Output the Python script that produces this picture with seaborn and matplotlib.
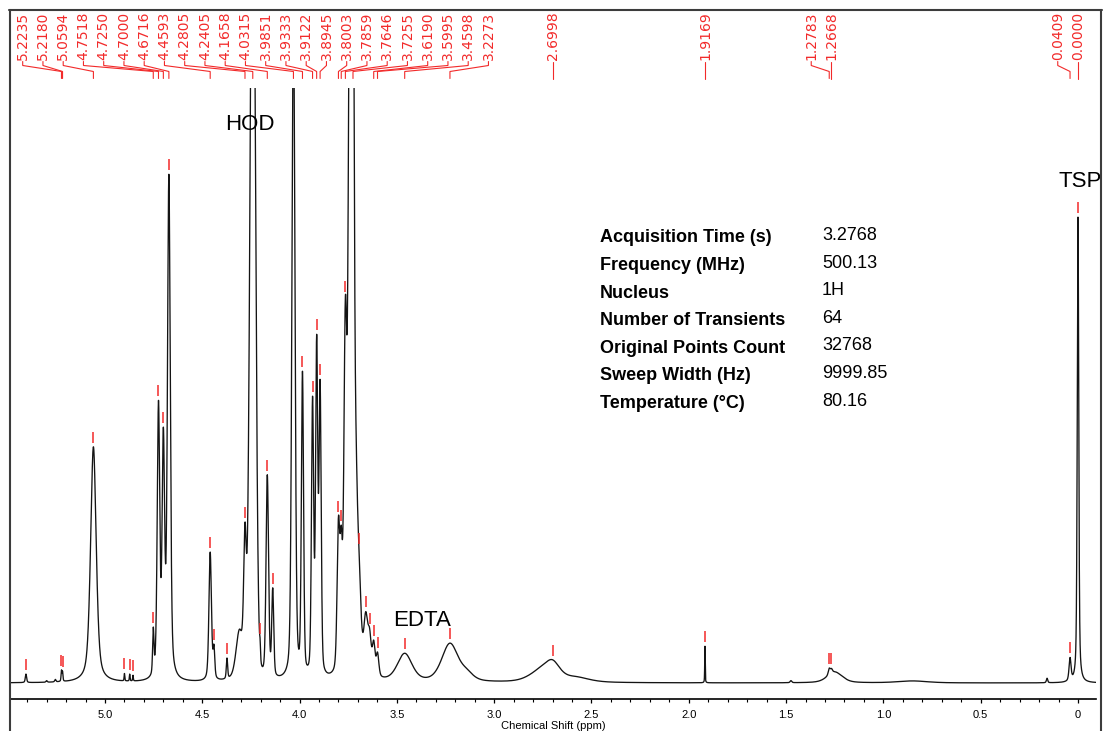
import numpy as np
import matplotlib
matplotlib.use("Agg")
import matplotlib.pyplot as plt
from matplotlib.lines import Line2D
from matplotlib.ticker import MultipleLocator, FuncFormatter
import seaborn as sns

# ---------------------------------------------------------------------------
# 1H NMR spectrum (500 MHz, D2O, 80 degC) described as a list of picked lines:
# chemical shift (ppm), apex intensity (% of the plotted height), half width
# at half maximum (ppm), Lorentzian share of the line shape, peak-pick mark.
# ---------------------------------------------------------------------------
peak_ppm = [5.406, 5.300, 5.255, 5.2235, 5.2180, 5.0594, 4.900, 4.873, 4.856,
            4.7518, 4.7250, 4.7000, 4.6716, 4.4593, 4.440, 4.373, 4.310,
            4.2805, 4.2405, 4.203, 4.1658, 4.138, 4.0315, 3.9851, 3.9333,
            3.9122, 3.8945, 3.8003, 3.7859, 3.7646, 3.7420, 3.7255, 3.712,
            3.695, 3.660, 3.640, 3.6190, 3.5995, 3.4598, 3.2273, 3.140,
            2.760, 2.6998, 2.580, 1.9169, 1.475, 1.2783, 1.2668, 1.250,
            1.205, 0.850, 0.159, 0.0409, 0.0000]
peak_height = [1.5, 0.4, 0.6, 2.2, 2.0, 39.7, 1.6, 1.5, 1.3,
               9.4, 47.5, 43.0, 85.5, 22.0, 6.5, 4.2, 9.0,
               27.0, 150.0, 7.5, 35.0, 16.0, 115.0, 52.4, 48.2,
               58.6, 51.0, 28.0, 26.5, 65.0, 130.0, 140.0, 48.0,
               22.7, 12.0, 9.2, 7.2, 5.2, 5.0, 6.7, 2.4,
               2.8, 3.9, 1.1, 6.2, 0.4, 2.5, 2.45, 1.9,
               1.0, 0.35, 0.8, 4.3, 78.3]
peak_hwhm = [0.004, 0.004, 0.004, 0.0025, 0.0025, 0.017, 0.002, 0.002, 0.002,
             0.004, 0.0075, 0.0075, 0.0085, 0.0075, 0.005, 0.004, 0.02,
             0.008, 0.0155, 0.0025, 0.0075, 0.006, 0.009, 0.0065, 0.0065,
             0.0065, 0.0065, 0.008, 0.007, 0.009, 0.009, 0.007, 0.01,
             0.012, 0.012, 0.01, 0.008, 0.008, 0.045, 0.05, 0.04,
             0.07, 0.045, 0.08, 0.0015, 0.005, 0.006, 0.006, 0.045,
             0.012, 0.09, 0.004, 0.006, 0.0045]
peak_lorentz = [0.5, 0.5, 0.5, 0.5, 0.5, 0.5, 0.5, 0.5, 0.5,
                0.4, 0.4, 0.4, 0.4, 0.4, 0.4, 0.4, 0.4,
                0.4, 0.1, 0.3, 0.3, 0.3, 0.3, 0.3, 0.3,
                0.3, 0.3, 0.3, 0.3, 0.3, 0.3, 0.3, 0.3,
                0.4, 0.4, 0.4, 0.4, 0.4, 0.45, 0.45, 0.5,
                0.5, 0.5, 0.5, 0.5, 0.5, 0.5, 0.5, 0.5,
                0.5, 0.5, 0.5, 0.5, 0.5]
peak_marked = [1, 0, 0, 1, 1, 1, 1, 1, 1,
               1, 1, 1, 1, 1, 1, 1, 0,
               1, 1, 1, 1, 1, 1, 1, 1,
               1, 1, 1, 1, 1, 0, 1, 0,
               1, 1, 1, 1, 1, 1, 1, 0,
               0, 1, 0, 1, 0, 1, 1, 0,
               0, 0, 0, 1, 1]

# shifts printed along the top of the spectrum
label_ppm = [5.2235, 5.2180, 5.0594, 4.7518, 4.7250, 4.7000, 4.6716, 4.4593,
             4.2805, 4.2405, 4.1658, 4.0315, 3.9851, 3.9333, 3.9122, 3.8945,
             3.8003, 3.7859, 3.7646, 3.7255, 3.6190, 3.5995, 3.4598, 3.2273,
             2.6998, 1.9169, 1.2783, 1.2668, 0.0409, 0.0000]

# acquisition parameters
param_names = ["Acquisition Time (s)", "Frequency (MHz)", "Nucleus",
               "Number of Transients", "Original Points Count",
               "Sweep Width (Hz)", "Temperature (°C)"]
param_values = ["3.2768", "500.13", "1H", "64", "32768", "9999.85", "80.16"]


def line_shape(x, c, w, eta):
    """Pseudo-Voigt line with unit height at its centre."""
    u = ((x - c) / w) ** 2
    return eta / (1.0 + u) + (1.0 - eta) * np.exp(-np.log(2.0) * u)


c = np.asarray(peak_ppm, float)
h = np.asarray(peak_height, float)
w = np.asarray(peak_hwhm, float)
eta = np.asarray(peak_lorentz, float)
marked = np.asarray(peak_marked, bool)

# line amplitudes so that the summed spectrum reaches each picked height
M = line_shape(c[:, None], c[None, :], w[None, :], eta[None, :])
amp = h.copy()
for _ in range(4000):
    amp = np.clip(amp + 0.5 * (h - M @ amp), 0.0, None)
apex = M @ amp

X_LEFT, X_RIGHT = 5.488, -0.0925
shift = np.linspace(X_LEFT, X_RIGHT, 24000)
intensity = (amp[None, :] * line_shape(shift[:, None], c[None, :],
                                       w[None, :], eta[None, :])).sum(axis=1)

# ---------------------------------------------------------------------------
sns.set_theme(style="white")
plt.rcParams["font.family"] = ["Liberation Sans", "DejaVu Sans"]

W, H = 1106, 731
fig = plt.figure(figsize=(W / 100, H / 100), dpi=100)


def fx(px):
    return px / W


def fy(py):
    return 1.0 - py / H


ax = fig.add_axes([fx(10), fy(699), fx(1096) - fx(10), fy(88) - fy(699)])
sns.lineplot(x=shift, y=intensity, ax=ax, color="#141414", linewidth=0.95,
             estimator=None, sort=False)
ax.set_xlim(X_LEFT, X_RIGHT)
ax.set_ylim(-2.69, 100.0)

for side in ("top", "left", "right"):
    ax.spines[side].set_visible(False)
ax.spines["bottom"].set_color("#000000")
ax.spines["bottom"].set_linewidth(1.2)
ax.set_yticks([])
ax.xaxis.set_major_locator(MultipleLocator(0.5))
ax.xaxis.set_minor_locator(MultipleLocator(0.1))
ax.xaxis.set_major_formatter(
    FuncFormatter(lambda v, p: "0" if abs(v) < 1e-9 else f"{v:.1f}"))
ax.tick_params(axis="x", which="major", direction="out", length=3.2,
               width=0.9, pad=5.0, labelsize=8, colors="#000000", bottom=True)
ax.tick_params(axis="x", which="minor", direction="out", length=2.4,
               width=0.8, colors="#000000", bottom=True)
ax.set_xlabel("Chemical Shift (ppm)", fontsize=8, labelpad=0.5,
              color="#000000")
ax.grid(False)

# peak-pick marks above each picked line
RED = "#f22a2a"
gap, tick = 0.7, 1.85
ax.vlines(c[marked], apex[marked] + gap, apex[marked] + gap + tick,
          colors=RED, linewidth=1.1)

# compound annotations
ax.text(4.255, 92.9, "HOD", fontsize=16, ha="center", va="baseline",
        color="#000000")
ax.text(3.371, 9.6, "EDTA", fontsize=16, ha="center", va="baseline",
        color="#000000")
ax.text(-0.01, 83.4, "TSP", fontsize=16, ha="center", va="baseline",
        color="#000000")

# ---------------------------------------------------------------------------
# shift labels across the top, spread apart and joined to their lines
lab = fig.add_axes([fx(10), fy(88), fx(1096) - fx(10), fy(6) - fy(88)],
                   sharex=ax)
lab.set_ylim(88, 6)
lab.axis("off")

lp = np.asarray(label_ppm, float)
zeros = np.zeros_like(lp)
peak_px = ax.transData.transform(np.column_stack([lp, zeros]))[:, 0]
spacing = 20.25
lo = ax.bbox.x0 + 12.7
hi = ax.bbox.x1 - 6.0
pos = peak_px.copy()
pos[-1] = min(pos[-1], hi)
for i in range(len(pos) - 2, -1, -1):
    pos[i] = min(pos[i], pos[i + 1] - spacing)
pos[0] = max(pos[0], lo)
for i in range(1, len(pos)):
    pos[i] = max(pos[i], pos[i - 1] + spacing)
label_x = ax.transData.inverted().transform(np.column_stack([pos, zeros]))[:, 0]

for v, xl, xp in zip(lp, label_x, lp):
    lab.plot([xl, xl, xp, xp], [61.5, 65.5, 71.5, 78.5], color=RED,
             linewidth=0.8, clip_on=False, solid_joinstyle="miter")
    lab.text(xl, 60.5, f"{v:.4f}", rotation=90, ha="center", va="bottom",
             color=RED, fontsize=10, family="DejaVu Sans", clip_on=False)

# ---------------------------------------------------------------------------
# acquisition parameter table
for k, (name, val) in enumerate(zip(param_names, param_values)):
    yb = 242.5 + 27.55 * k
    fig.text(fx(600), fy(yb), name, fontsize=13, fontweight="bold",
             ha="left", va="baseline", color="#000000")
    fig.text(fx(822), fy(yb - 2.3), val, fontsize=13, ha="left",
             va="baseline", color="#000000")

# outer frame of the page
for x0, y0, x1, y1 in [(8.5, 9.5, 1101.5, 9.5), (9.5, 9.5, 9.5, 731),
                       (1101, 9.5, 1101, 731)]:
    fig.add_artist(Line2D([fx(x0), fx(x1)], [fy(y0), fy(y1)],
                          transform=fig.transFigure, color="#3c3c3c",
                          linewidth=1.5))

fig.savefig("out.png", dpi=100, facecolor="white")
